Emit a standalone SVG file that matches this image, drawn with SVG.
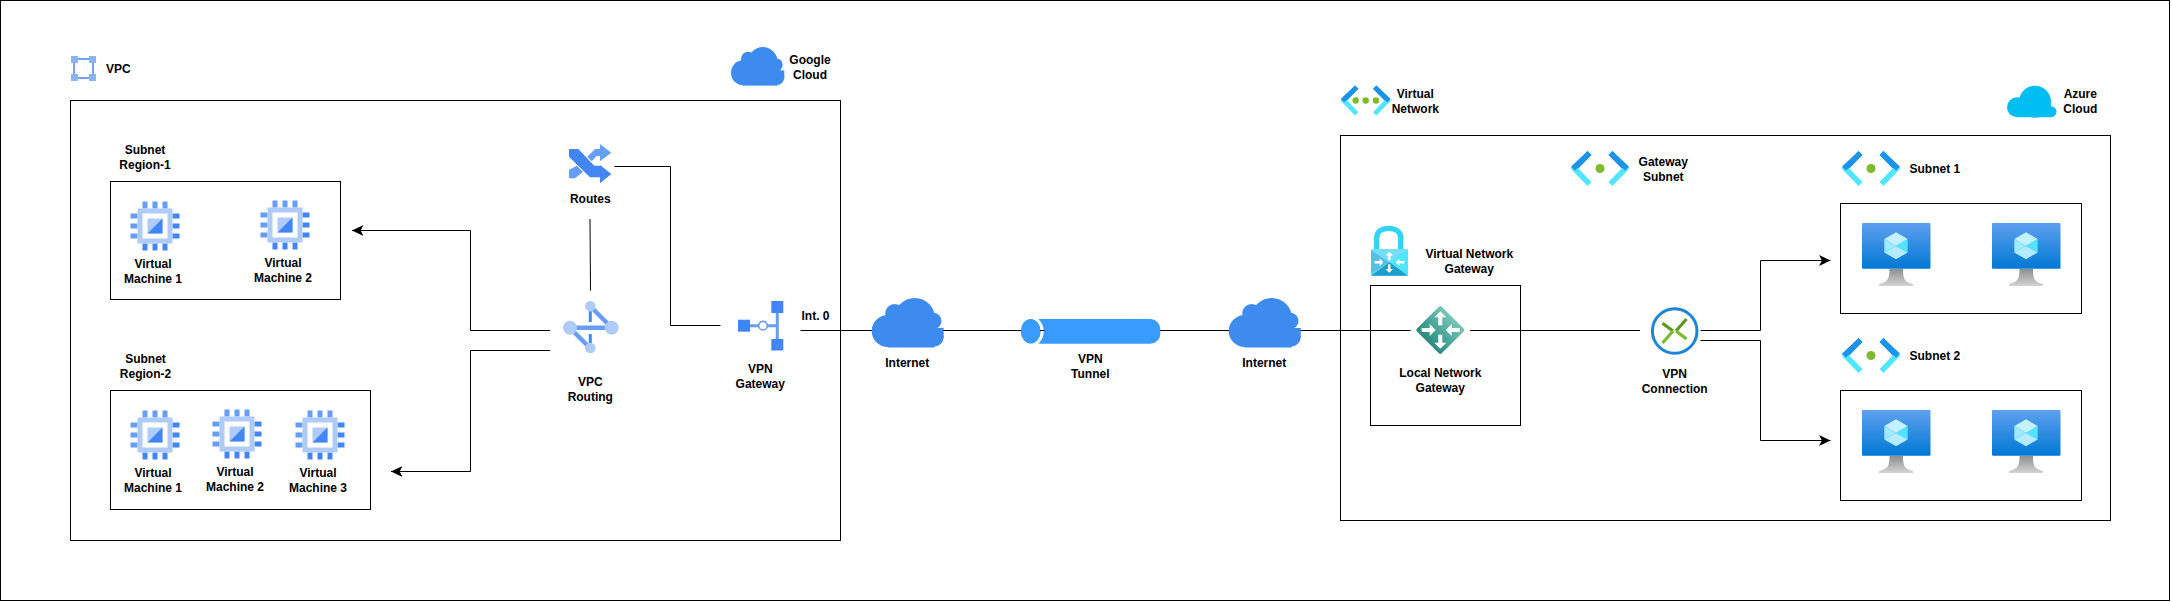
<svg xmlns="http://www.w3.org/2000/svg" xmlns:xlink="http://www.w3.org/1999/xlink" width="2172" height="602" viewBox="0 0 2172 602">
<style>
text{font-family:"Liberation Sans",Arial,sans-serif;font-size:12px;font-weight:bold;fill:#000;text-anchor:middle}
text.s{text-anchor:start}
.box{fill:none;stroke:#000;stroke-width:1}
.con{fill:none;stroke:#000;stroke-width:1}
.g1{fill:#4285f4}.g2{fill:#669df6}.g3{fill:#aecbfa}
</style>
<defs>
<marker id="arr" markerUnits="userSpaceOnUse" markerWidth="12" markerHeight="12" viewBox="0 0 11 10" refX="10.5" refY="5" orient="auto"><path d="M0 0L10.5 5L0 10L2.6 5Z" fill="#000"/></marker>
<linearGradient id="scr" x1="0" y1="0" x2="0" y2="1"><stop offset="0" stop-color="#5ea0ef"/><stop offset="1" stop-color="#0078d4"/></linearGradient>
<linearGradient id="std" x1="0" y1="0" x2="0" y2="1"><stop offset="0" stop-color="#8e8e8e"/><stop offset="1" stop-color="#d4d4d4"/></linearGradient>
<linearGradient id="dia" x1="0" y1="0" x2="0" y2="1"><stop offset="0" stop-color="#76c6b6"/><stop offset="1" stop-color="#2a8a80"/></linearGradient>
<g id="chip">
<g class="g2"><rect x="-12.5" y="-24.5" width="5" height="7"/><rect x="-2.5" y="-24.5" width="5" height="7"/><rect x="7.5" y="-24.5" width="5" height="7"/><rect x="-24.5" y="-12.5" width="7" height="5"/><rect x="-24.5" y="-2.5" width="7" height="5"/><rect x="-24.5" y="7.5" width="7" height="5"/></g>
<g class="g1"><rect x="-12.5" y="17.5" width="5" height="7"/><rect x="-2.5" y="17.5" width="5" height="7"/><rect x="7.5" y="17.5" width="5" height="7"/><rect x="17.5" y="-12.5" width="7" height="5"/><rect x="17.5" y="-2.5" width="7" height="5"/><rect x="17.5" y="7.5" width="7" height="5"/></g>
<rect x="-17.5" y="-17.5" width="35" height="35" class="g3"/><rect x="-12.5" y="-12.5" width="25" height="25" fill="#fff"/>
<rect x="-7.5" y="-7.5" width="15" height="15" class="g3"/><path d="M7.5 -7.5V7.5H-7.5Z" class="g1"/>
</g>
<g id="cloud" fill="#3d8bef">
<circle cx="16" cy="33" r="16"/><circle cx="62.5" cy="39" r="9.5"/><circle cx="23" cy="15.5" r="9.5"/><circle cx="43" cy="20.5" r="20.5"/><circle cx="61.5" cy="23" r="8.3"/><rect x="16" y="20" width="47" height="29.5"/><rect x="60" y="30" width="12" height="10"/>
</g>
<g id="brk" fill="none" stroke-width="5.5">
<path d="M-27 1.5L-10.5 -15.5M27 1.5L10.5 -15.5" stroke="#1b93eb"/>
<path d="M-27 -1.5L-10.5 15.5M27 -1.5L10.5 15.5" stroke="#50e6ff"/>
<path d="M-27 0L-10.5 -15.5M27 0L10.5 -15.5" stroke="#1b93eb"/>
</g>
<g id="sub"><use href="#brk"/><circle r="4.5" fill="#7fba2a"/></g>
<polygon id="ar" points="0,-7 6,-1 2,-1 2,7 -2,7 -2,-1 -6,-1" fill="#fff"/>
<g id="mon">
<rect width="68.5" height="45.8" rx="1" fill="url(#scr)"/>
<path d="M27.5 46H41C41 57 43 59 51 61V63H17V61C25 59 27.5 57 27.5 46Z" fill="url(#std)"/>
<path d="M34 9.2L45.7 16L34 23L22.3 16Z" fill="#c3f1ff"/>
<path d="M22.3 16V29.5L34 23Z" fill="#9cebff"/><path d="M45.7 16V29.5L34 23Z" fill="#50e6ff"/>
<path d="M22.3 29.5L34 36.2L45.7 29.5L34 23Z" fill="#b3ecff"/>
</g>
</defs>

<rect class="box" x="0.5" y="0.5" width="2169" height="600" id="frame"/>

<g id="vpc-box">
<rect class="box" x="70.5" y="100.5" width="770" height="440"/>
<g id="vpc-icon"><path d="M74 59H93M74 78H93M74 59V78M93 59V78" fill="none" stroke="#4285f4" stroke-width="1.5"/>
<g fill="#8ab4f8"><rect x="71" y="56" width="7" height="7"/><rect x="89" y="56" width="7" height="7"/><rect x="71" y="74" width="7" height="7"/><rect x="89" y="74" width="7" height="7"/></g></g>
<text class="s" x="106" y="72.5">VPC</text>
</g>

<g id="google-cloud"><use href="#cloud" transform="translate(731 47) scale(0.74 0.78)"/><text x="810" y="64">Google</text><text x="810" y="79">Cloud</text></g>

<g id="subnet-region-1">
<rect class="box" x="110.5" y="181.5" width="230" height="118"/>
<text x="145" y="154">Subnet</text><text x="145" y="169">Region-1</text>
<g id="vm1-1"><use href="#chip" x="155" y="226"/><text x="153" y="268">Virtual</text><text x="153" y="283">Machine 1</text></g>
<g id="vm1-2"><use href="#chip" x="285" y="225"/><text x="283" y="267">Virtual</text><text x="283" y="282">Machine 2</text></g>
</g>

<g id="subnet-region-2">
<rect class="box" x="110.5" y="390.5" width="260" height="119"/>
<text x="145.5" y="363">Subnet</text><text x="145.5" y="378">Region-2</text>
<g id="vm2-1"><use href="#chip" x="155" y="435"/><text x="153" y="477">Virtual</text><text x="153" y="492">Machine 1</text></g>
<g id="vm2-2"><use href="#chip" x="237" y="434"/><text x="235" y="476">Virtual</text><text x="235" y="491">Machine 2</text></g>
<g id="vm2-3"><use href="#chip" x="320" y="435"/><text x="318" y="477">Virtual</text><text x="318" y="492">Machine 3</text></g>
</g>

<g id="routes">
<polygon class="g2" points="587.3,156.7 595,149 600,149 600,144 611.3,152.7 600,161.3 600,156 596.7,156 591.7,161.3"/>
<polygon class="g2" points="569,170 576.7,165.7 583,171.7 575,178.3 569,178.3"/>
<polygon class="g1" points="569,149 578.3,149 594.3,165.7 600,165.7 600,165 611.3,174 600,183.3 600,177.3 590,177.3 569,156.7"/>
<text x="590.3" y="202.7">Routes</text>
</g>

<g id="vpc-routing">
<path d="M590.3 311V322M590.3 334V343" stroke="#4285f4" stroke-width="3" fill="none"/>
<path d="M590 306L611 327M570 328L590 348M570 327.7H612" stroke="#669df6" stroke-width="4.5" fill="none"/>
<g class="g3"><circle cx="570" cy="327.7" r="7"/><circle cx="611.7" cy="327.7" r="7"/><circle cx="590.3" cy="306.2" r="5.3"/><circle cx="590.3" cy="348" r="5.3"/></g>
<text x="590.3" y="386">VPC</text><text x="590.3" y="401">Routing</text>
</g>

<g id="vpn-gateway">
<path d="M750 325.7H777.3M777.3 313V339" stroke="#669df6" stroke-width="3" fill="none"/>
<g class="g1"><rect x="738" y="319.7" width="12" height="12"/><rect x="771.3" y="301" width="12" height="12"/><rect x="771.3" y="339" width="12" height="11.5"/></g>
<circle cx="763" cy="325.7" r="4.3" fill="#fff" stroke="#669df6" stroke-width="1.6"/>
<text x="760.3" y="372.7">VPN</text><text x="760.3" y="387.7">Gateway</text>
<text class="s" x="801.5" y="320">Int. 0</text>
</g>

<g id="internet-1"><use href="#cloud" x="871.7" y="298"/><text x="907.3" y="366.7">Internet</text></g>

<g id="vpn-tunnel">
<rect x="1030" y="319" width="130.3" height="24.7" rx="10" fill="#3a9bff"/>
<ellipse cx="1030.7" cy="331.3" rx="13" ry="15" fill="#fff"/>
<ellipse cx="1030.7" cy="331.3" rx="10" ry="12.3" fill="#3a9bff"/>
<text x="1090.3" y="362.7">VPN</text><text x="1090.3" y="377.7">Tunnel</text>
</g>

<g id="internet-2"><use href="#cloud" x="1228.7" y="298"/><text x="1264.3" y="366.7">Internet</text></g>

<g id="vnet-box">
<rect class="box" x="1340.5" y="135.5" width="770" height="385"/>
<g id="vnet-icon" transform="translate(1365.7 100.5) scale(0.86)"><use href="#brk"/></g>
<g fill="#7fba2a"><circle cx="1355.7" cy="100.5" r="3.2"/><circle cx="1365.7" cy="100.5" r="3.2"/><circle cx="1376" cy="100.5" r="3.2"/></g>
<text x="1415.3" y="98">Virtual</text><text x="1415.3" y="113">Network</text>
</g>

<g id="azure-cloud">
<g fill="#00bef2"><circle cx="2017" cy="107.3" r="10"/><circle cx="2035" cy="101.7" r="16"/><circle cx="2051" cy="111.7" r="5.5"/><rect x="2017" y="105" width="34" height="12.2"/></g>
<text x="2080.3" y="97.7">Azure</text><text x="2080.3" y="113">Cloud</text>
</g>

<g id="gateway-subnet"><use href="#sub" x="1600" y="168.5"/><text x="1663.3" y="166">Gateway</text><text x="1663.3" y="181">Subnet</text></g>

<g id="virtual-network-gateway">
<path d="M1376.7 252V238C1376.7 231.5 1382 228.3 1388.7 228.3S1400.7 231.5 1400.7 238V252" fill="none" stroke="#32d4f5" stroke-width="5.3"/>
<rect x="1371" y="249" width="37" height="26.7" rx="1.5" fill="#50e6ff"/>
<path d="M1371 249H1408L1389.5 262.3Z" fill="#76dff7"/>
<path d="M1371 250.5V274L1389.5 262.3Z" fill="#57bfe3"/>
<path d="M1371 275.7H1408L1389.5 262.3Z" fill="#1f9ecb"/>
<use href="#ar" transform="translate(1389.3 256) scale(0.62)"/>
<use href="#ar" transform="translate(1389.3 268.5) rotate(180) scale(0.62)"/>
<use href="#ar" transform="translate(1379 262.3) rotate(90) scale(0.62)"/>
<use href="#ar" transform="translate(1400 262.3) rotate(-90) scale(0.62)"/>
<text x="1469.3" y="258">Virtual Network</text><text x="1469.3" y="273">Gateway</text>
</g>

<g id="local-network-gateway">
<rect class="box" x="1370.5" y="285.5" width="150" height="140"/>
<rect x="1422.8" y="312.5" width="35" height="35" rx="2" fill="url(#dia)" transform="rotate(45 1440.3 330)"/>
<use href="#ar" transform="translate(1440.3 318.3)"/>
<use href="#ar" transform="translate(1440.3 341.7) rotate(180)"/>
<use href="#ar" transform="translate(1428.7 330) rotate(90)"/>
<use href="#ar" transform="translate(1452.7 330) rotate(-90)"/>
<text x="1440.3" y="377">Local Network</text><text x="1440.3" y="392">Gateway</text>
</g>

<g id="vpn-connection">
<circle cx="1674.7" cy="331" r="22.3" fill="#fff" stroke="#1b85d9" stroke-width="3"/>
<path d="M1662.5 323.3L1673 331M1686.5 319L1676 331" fill="none" stroke="#5e9624" stroke-width="3.2"/>
<path d="M1673 331L1662.5 343M1676 331L1686.5 339" fill="none" stroke="#76bc2d" stroke-width="3.2"/>
<text x="1674.7" y="378">VPN</text><text x="1674.7" y="393">Connection</text>
</g>

<g id="subnet-1">
<use href="#sub" x="1871" y="168.5"/><text class="s" x="1909.5" y="172.5">Subnet 1</text>
<rect class="box" x="1840.5" y="203.5" width="241" height="110"/>
<use href="#mon" x="1862" y="223"/><use href="#mon" x="1992" y="223"/>
</g>

<g id="subnet-2">
<use href="#sub" x="1871" y="355.5"/><text class="s" x="1909.5" y="360">Subnet 2</text>
<rect class="box" x="1840.5" y="390.5" width="241" height="110"/>
<use href="#mon" x="1862" y="410"/><use href="#mon" x="1992" y="410"/>
</g>

<g id="connectors">
<path class="con" d="M550 330.5H470.5V230.5H352" marker-end="url(#arr)"/>
<path class="con" d="M550 350.5H470.5V471.5H391" marker-end="url(#arr)"/>
<path class="con" d="M614.5 166.5H670.5V325.5H720.5"/>
<path class="con" d="M590 219L590.5 290.5"/>
<path class="con" d="M800.5 330.5H872M943.5 330.5H1021M1040 330.5H1044.5M1160 330.5H1229M1300.5 330.5H1410.5M1470 330.5H1640"/>
<path class="con" d="M1700.5 330.5H1760.5V260.5H1830.5" marker-end="url(#arr)"/>
<path class="con" d="M1700.5 340.5H1760.5V440.5H1830.5" marker-end="url(#arr)"/>
</g>
</svg>
